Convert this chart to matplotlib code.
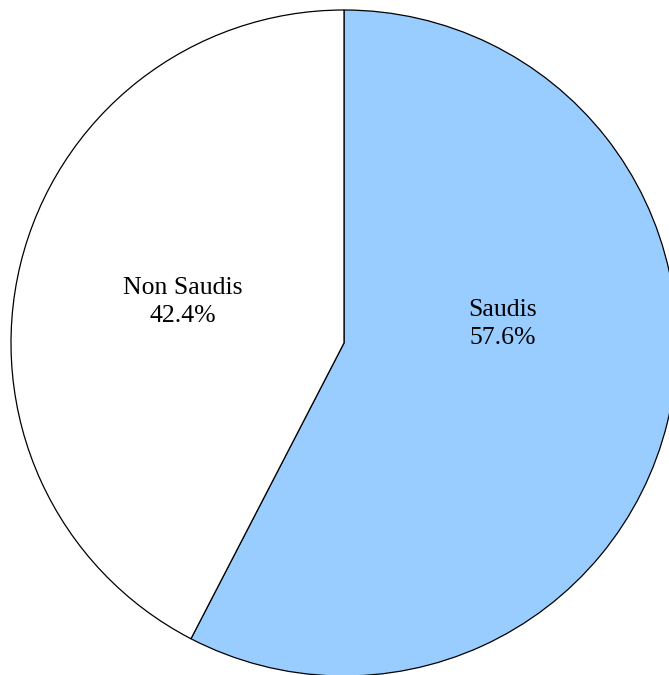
import matplotlib
matplotlib.use("Agg")
import matplotlib.pyplot as plt

categories = ["Saudis", "Non Saudis"]
values = [57.6, 42.4]
colors = ["#99CCFF", "#FFFFFF"]

W, H = 669, 675
fig = plt.figure(figsize=(W / 100, H / 100), dpi=100)
ax = fig.add_axes([0, 0, 1, 1])

cx, cy, r = 344, H - 343, 333
ax.pie(values, colors=colors, startangle=90, counterclock=False,
       center=(cx, cy), radius=r,
       wedgeprops=dict(edgecolor="black", linewidth=0.9), frame=True)
ax.set_xlim(0, W)
ax.set_ylim(0, H)
ax.axis("off")

label_pos = [(503, H - 324), (183, H - 302)]
for (x, y), c, v in zip(label_pos, categories, values):
    ax.text(x, y, f"{c}\n{v:.1f}%", ha="center", va="center",
            fontsize=18.5, family="Liberation Serif", linespacing=1.32)

fig.savefig("out.png", dpi=100)
